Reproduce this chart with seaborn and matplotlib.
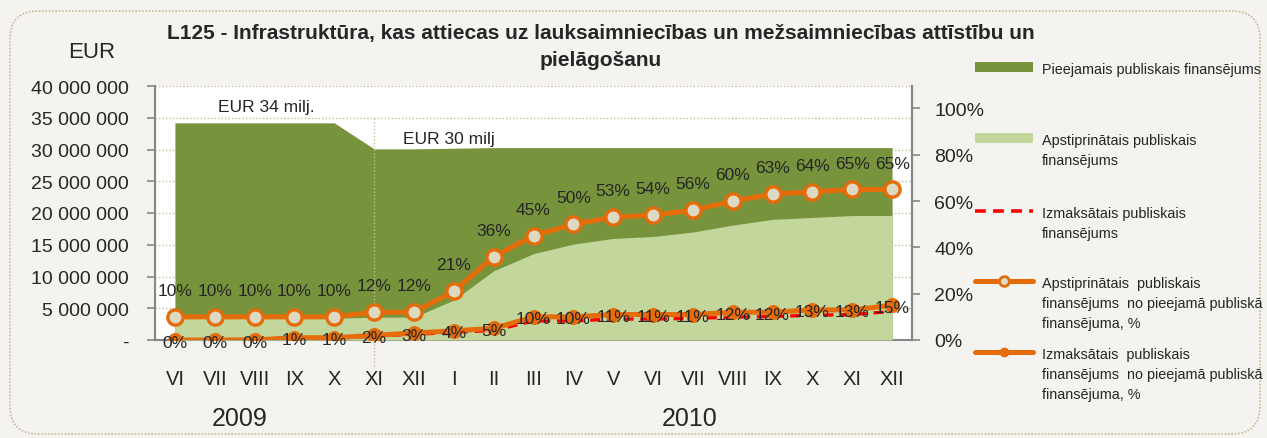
import numpy as np
import pandas as pd
import matplotlib
matplotlib.use("Agg")
import matplotlib.pyplot as plt
from matplotlib.patches import FancyBboxPatch, Patch
from matplotlib.lines import Line2D
import seaborn as sns

# -----------------------------
# Data
# -----------------------------
months = ["VI", "VII", "VIII", "IX", "X", "XI", "XII",
          "I", "II", "III", "IV", "V", "VI", "VII", "VIII", "IX", "X", "XI", "XII"]

available_eur = [34200000, 34200000, 34200000, 34200000, 34200000, 30100000, 30100000,
                 30200000, 30300000, 30300000, 30300000, 30300000, 30300000, 30300000,
                 30300000, 30300000, 30300000, 30300000, 30300000]
approved_eur = [3400000, 3400000, 3400000, 3400000, 3400000, 3600000, 3600000,
                6300000, 10900000, 13600000, 15100000, 16000000, 16300000, 17000000,
                18100000, 19000000, 19300000, 19600000, 19600000]
paid_eur = [0, 50000, 100000, 300000, 350000, 600000, 900000,
            1200000, 1500000, 3000000, 3000000, 3300000, 3300000, 3400000,
            3600000, 3700000, 3900000, 4000000, 4500000]

approved_pct = [10, 10, 10, 10, 10, 12, 12, 21, 36, 45, 50, 53, 54, 56, 60, 63, 64, 65, 65]
paid_pct = [0, 0, 0, 1, 1, 2, 3, 4, 5, 10, 10, 11, 11, 11, 12, 12, 13, 13, 15]

left_ticks = [0, 5000000, 10000000, 15000000, 20000000, 25000000, 30000000, 35000000, 40000000]
left_labels = ["-", "5 000 000", "10 000 000", "15 000 000", "20 000 000",
               "25 000 000", "30 000 000", "35 000 000", "40 000 000"]
right_ticks = [0, 0.2, 0.4, 0.6, 0.8, 1.0]
right_labels = ["0%", "20%", "40%", "60%", "80%", "100%"]

legend_labels = [
    "Pieejamais publiskais finansējums",
    "Apstiprinātais publiskais\nfinansējums",
    "Izmaksātais publiskais\nfinansējums",
    "Apstiprinātais  publiskais\nfinansējums  no pieejamā publiskā\nfinansējuma, %",
    "Izmaksātais  publiskais\nfinansējums  no pieejamā publiskā\nfinansējuma, %",
]

title = ("L125 - Infrastruktūra, kas attiecas uz lauksaimniecības un mežsaimniecības attīstību un\n"
         "pielāgošanu")

df = pd.DataFrame({
    "x": np.arange(len(months)),
    "available": available_eur,
    "approved": approved_eur,
    "paid": paid_eur,
    "approved_pct": np.array(approved_pct) / 100,
    "paid_pct": np.array(paid_pct) / 100,
})

# -----------------------------
# Style
# -----------------------------
DARK_GREEN = "#77933C"
LIGHT_GREEN = "#C3D69B"
ORANGE = "#E46C0A"
MARKER_FILL = "#DDD9C3"
GRID = "#C4BD97"
AXIS_GREY = "#868686"
BG = "#F4F3EF"

sns.set_style("white")
plt.rcParams["font.family"] = ["Liberation Sans Narrow", "Liberation Sans", "DejaVu Sans"]

fig = plt.figure(figsize=(12.67, 4.39), dpi=100, facecolor=BG)
fig.patches.append(FancyBboxPatch((0.10, 0.04), 12.50, 4.23,
                                  boxstyle="round,pad=0,rounding_size=0.28",
                                  transform=fig.dpi_scale_trans, facecolor=BG,
                                  edgecolor=GRID, linestyle=(0, (1, 1)), linewidth=1.2,
                                  zorder=-10))

ax = fig.add_axes([155 / 1267, 1 - 341 / 439, 757 / 1267, 254 / 439])
ax.set_facecolor("white")

# areas (EUR, left axis)
ax.fill_between(df["x"], 0, df["available"], color=DARK_GREEN, linewidth=0, zorder=2)
ax.fill_between(df["x"], 0, df["approved"], color=LIGHT_GREEN, linewidth=0, zorder=3)
sns.lineplot(data=df, x="x", y="paid", ax=ax, color="#FF0000", linewidth=2.4,
             linestyle=(0, (3, 2)), zorder=4, legend=False)

ax.set_xlim(-0.5, len(months) - 0.5)
ax.set_ylim(0, 40000000)
ax.set_yticks(left_ticks)
ax.set_yticklabels(left_labels, fontsize=14)
ax.set_xticks(np.arange(len(months)))
ax.set_xticklabels(months, fontsize=14.5)
ax.set_xticks(np.arange(len(months) + 1) - 0.5, minor=True)
ax.tick_params(axis="x", which="major", length=0, pad=21)
ax.tick_params(axis="x", which="minor", length=5, width=1.2, color=AXIS_GREY, direction="out")
ax.tick_params(axis="y", length=6, width=1.2, color=AXIS_GREY, direction="out", pad=13)
ax.set_xlabel("")
ax.set_ylabel("")
for y in left_ticks[1:]:
    ax.axhline(y, color=GRID, linestyle=(0, (1, 1.5)), linewidth=1, zorder=1)
ax.spines["top"].set_visible(False)
for side in ["left", "bottom", "right"]:
    ax.spines[side].set_color(AXIS_GREY)
    ax.spines[side].set_linewidth(1.5)

# vertical separator at XI
ax.plot([5, 5], [35000000, -4100000], color=GRID, linestyle=(0, (1, 1.5)),
        linewidth=1, clip_on=False, zorder=5)

ax.text(2.3, 36850000, "EUR 34 milj.", ha="center", va="center", fontsize=12.5)
ax.text(5.73, 31800000, "EUR 30 milj", ha="left", va="center", fontsize=12.5)

# percent lines (right axis)
ax2 = ax.twinx()
ax2.set_ylim(0, 1.097)
sns.lineplot(data=df, x="x", y="paid_pct", ax=ax2, color=ORANGE, linewidth=3.6,
             marker="o", markersize=10, markerfacecolor=ORANGE, markeredgecolor=ORANGE,
             legend=False, zorder=5)
sns.lineplot(data=df, x="x", y="approved_pct", ax=ax2, color=ORANGE, linewidth=3.6,
             marker="o", markersize=11, markerfacecolor=MARKER_FILL, markeredgecolor=ORANGE,
             markeredgewidth=2.4, legend=False, zorder=6)
ax2.set_yticks(right_ticks)
ax2.set_yticklabels(right_labels, fontsize=14)
ax2.tick_params(axis="y", length=6, width=1.2, color=AXIS_GREY, direction="out", pad=10)
ax2.set_ylabel("")
for side in ["top", "left", "bottom"]:
    ax2.spines[side].set_visible(False)
ax2.spines["right"].set_color(AXIS_GREY)
ax2.spines["right"].set_linewidth(1.5)
ax2.set_xlim(-0.5, len(months) - 0.5)

for i, p in enumerate(approved_pct):
    ax2.annotate(f"{p}%", (i, p / 100), xytext=(0, 19), textcoords="offset points",
                 ha="center", va="center", fontsize=12.5, zorder=7)
for i, p in enumerate(paid_pct):
    ax2.annotate(f"{p}%", (i, p / 100), xytext=(0, -1.5), textcoords="offset points",
                 ha="center", va="center", fontsize=12.5, zorder=7)

# texts outside plot
fig.text(601 / 1267, 1 - 47 / 439, title, ha="center", va="center", fontsize=15,
         fontweight="bold", linespacing=1.6)
fig.text(92 / 1267, 1 - 52 / 439, "EUR", ha="center", va="center", fontsize=16)
fig.text(240 / 1267, 1 - 419 / 439, "2009", ha="center", va="center", fontsize=18)
fig.text(690 / 1267, 1 - 419 / 439, "2010", ha="center", va="center", fontsize=18)

# legend: handles placed level with the first line of each label
handles = [
    Patch(facecolor=DARK_GREEN, edgecolor="none"),
    Patch(facecolor=LIGHT_GREEN, edgecolor="none"),
    Line2D([], [], color="#FF0000", linewidth=2.6, linestyle=(0, (3, 2))),
    Line2D([], [], color=ORANGE, linewidth=3.6, marker="o", markersize=7,
           markerfacecolor=MARKER_FILL, markeredgecolor=ORANGE, markeredgewidth=2),
    Line2D([], [], color=ORANGE, linewidth=3.6, marker="o", markersize=6,
           markerfacecolor=ORANGE, markeredgecolor=ORANGE),
]
handle_y = [69, 140, 213, 283, 354]
for h, lab, y in zip(handles, legend_labels, handle_y):
    fig.legend(handles=[h], labels=[""], loc="center left",
               bbox_to_anchor=(975 / 1267, 1 - y / 439), frameon=False,
               fontsize=10.2, handlelength=4.1, handleheight=0.75, handletextpad=0,
               borderpad=0, borderaxespad=0)
    fig.text(1042 / 1267, 1 - (y - 6) / 439, lab, ha="left", va="top",
             fontsize=10.4, linespacing=1.55)

fig.savefig("out.png", dpi=100, facecolor=BG)
